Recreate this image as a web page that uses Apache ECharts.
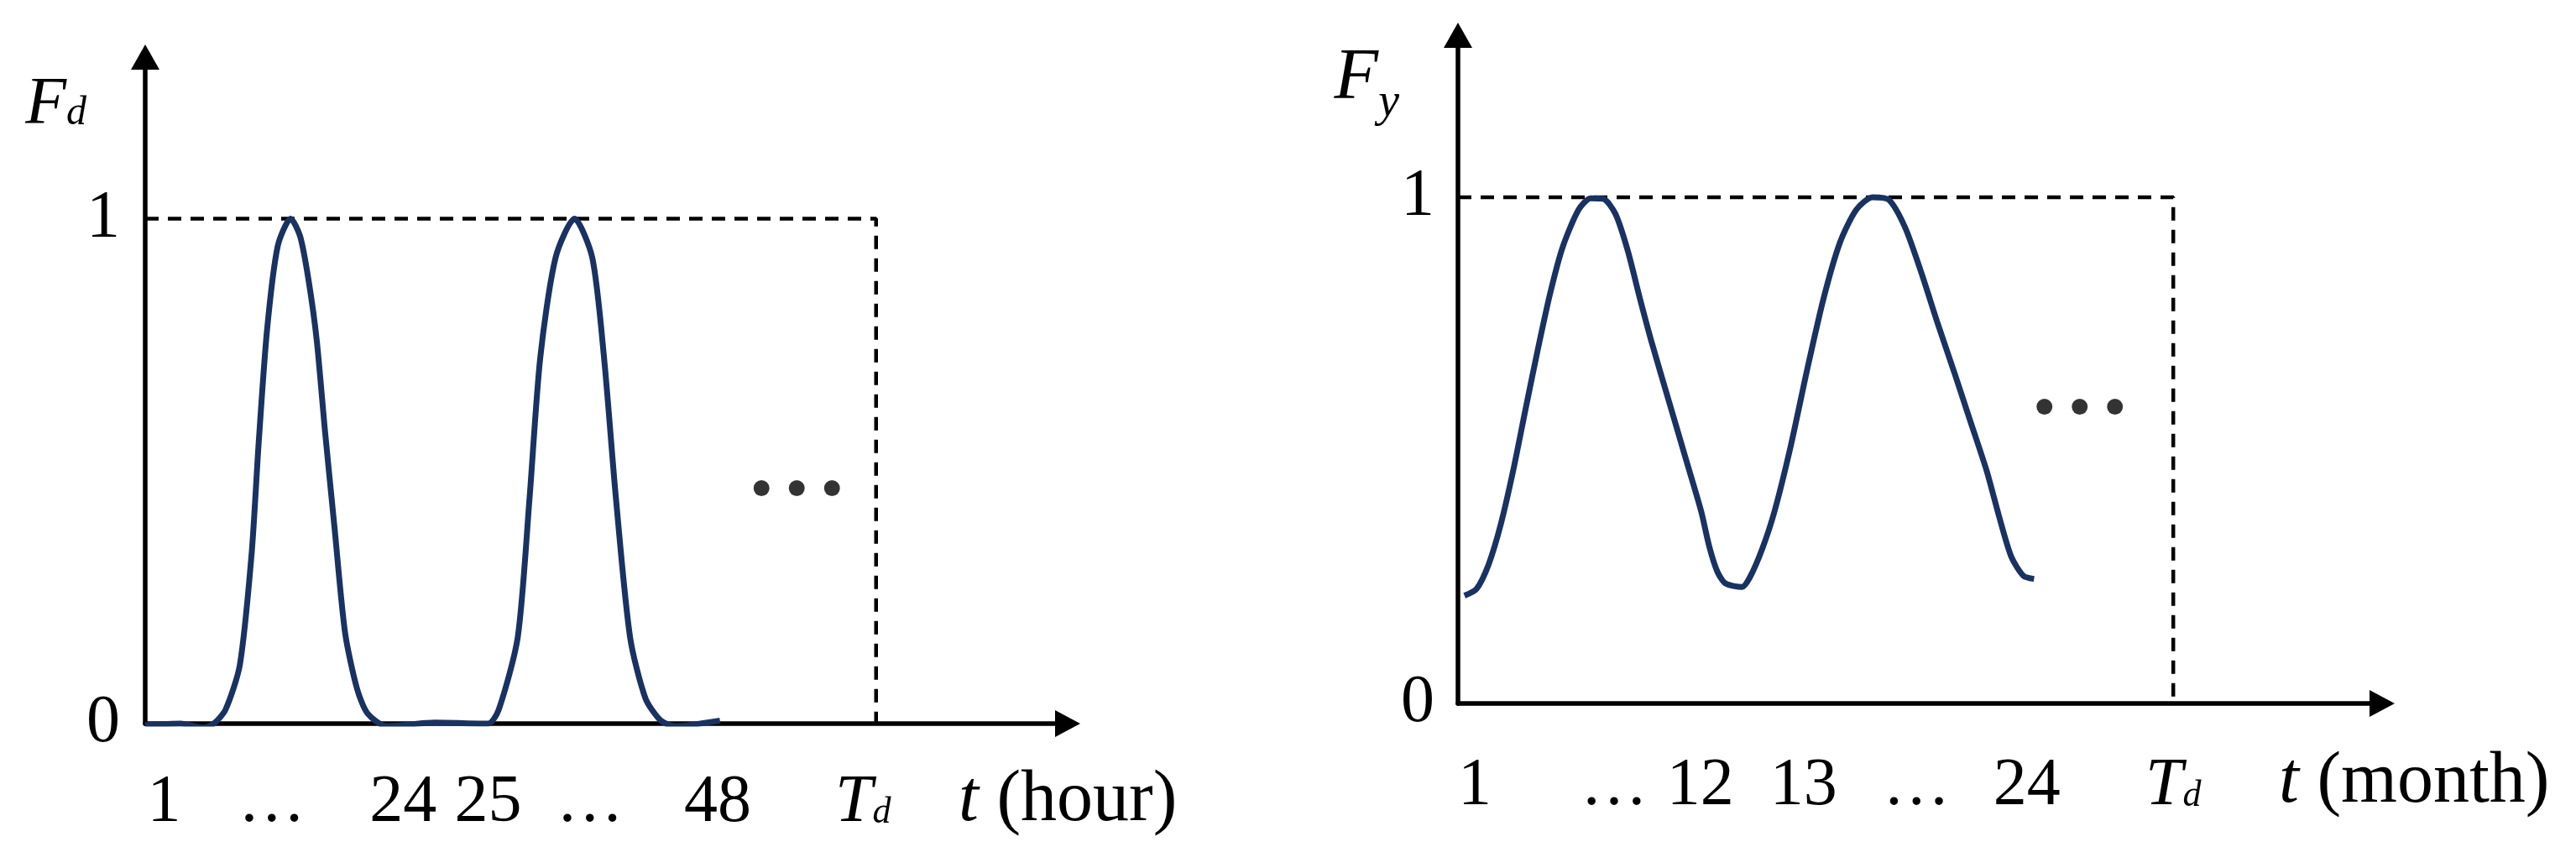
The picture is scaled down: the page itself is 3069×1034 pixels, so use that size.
<!DOCTYPE html>
<html>
<head>
<meta charset="utf-8">
<title>Fd / Fy</title>
<script src="https://cdn.jsdelivr.net/npm/echarts@6/dist/echarts.min.js"></script>
<style>
  html, body { margin: 0; padding: 0; background: #fff; }
  #main { width: 3069px; height: 1034px; }
</style>
</head>
<body>
<div id="main"></div>
<script>
// daily profile (t in hours)
const hourT = [0, 3, 4.9, 5.8, 6.8, 8.0, 9.0, 9.6, 10.3, 11.2, 12.3, 13.1, 13.8, 14.5, 15.2, 16.0, 16.9, 17.9, 18.8, 20.4, 24.5,
  29.0, 29.9, 31.5, 32.5, 33.4, 34.7, 36.3, 37.8, 38.8, 39.8, 41.0, 42.3, 43.6, 44.8, 48.6];
const dayF = [-0.003, 0, -0.008, 0, 0.028, 0.116, 0.337, 0.558, 0.779, 0.945, 1.0, 0.965, 0.88, 0.76, 0.58, 0.39, 0.18, 0.07, 0.02, -0.005, 0.002,
  0, 0.028, 0.171, 0.447, 0.724, 0.923, 1.0, 0.923, 0.724, 0.447, 0.171, 0.05, 0.006, -0.005, 0.006];
const hourTickAt = [1.6, 10.7, 21.8, 29.0, 37.6, 48.4, 60.7];
const hourTickText = ['1', '…', '24', '25', '…', '48', '{T|T}{d|d}'];
const hourTd = 61.8;
const hourMax = 78;
const hourDots = [[55.1, 0.457]];

// yearly profile (t in months)
const monthT = [0.27, 0.77, 1.28, 1.79, 2.30, 2.81, 3.33, 3.84, 4.35, 5.02, 5.53, 6.05, 6.56, 7.07, 7.58, 8.09, 8.77, 9.45, 10.13, 10.47,
  10.81, 11.15, 11.83, 12.17, 12.68, 13.19, 13.87, 14.55, 15.23, 15.91, 16.59, 17.27, 17.95, 18.63, 19.31, 19.99, 20.67, 21.35,
  22.03, 22.54, 23.05, 23.56, 24.0];
const yearF = [0.213, 0.226, 0.275, 0.355, 0.46, 0.58, 0.70, 0.81, 0.90, 0.975, 0.998, 0.997, 0.967, 0.895, 0.80, 0.71, 0.60, 0.49, 0.38, 0.31,
  0.26, 0.237, 0.23, 0.25, 0.306, 0.38, 0.51, 0.66, 0.80, 0.91, 0.975, 1.0, 0.995, 0.94, 0.85, 0.75, 0.655, 0.557,
  0.459, 0.37, 0.29, 0.252, 0.246];
const monthTickAt = [0.7, 6.5, 10.1, 14.4, 19.1, 23.7, 29.8];
const monthTickText = ['1', '…', '12', '13', '…', '24', '{T|T}{d|d}'];
const monthTd = 29.8;
const monthMax = 38.5;
const monthDots = [[25.9, 0.577]];

const fTicks = [0, 1];
const fMax = 1.32;

const serif = 'Liberation Serif';
const navy = '#1a3262';

let myChart = echarts.init(document.getElementById('main'));

function zip(xs, ys) {
    return xs.map(function (x, i) { return [x, ys[i]]; });
}

function xAxisFor(grid, max, ticks, texts, name, nameGap, namePad, margin) {
    return {
        type: 'value', gridIndex: grid, min: 0, max: max,
        splitLine: { show: false },
        axisTick: { show: false },
        axisLine: { onZero: false, symbol: ['none', 'triangle'], symbolSize: [32, 30],
            lineStyle: { color: '#000', width: 5.5 } },
        axisLabel: {
            customValues: ticks, margin: margin,
            fontFamily: serif, fontSize: 80, color: '#000',
            formatter: function (v) { return texts[ticks.indexOf(v)]; },
            rich: {
                T: { fontFamily: serif, fontSize: 80, fontStyle: 'italic', color: '#000' },
                d: { fontFamily: serif, fontSize: 44, fontStyle: 'italic', color: '#000', padding: [22, 0, 0, 0] }
            }
        },
        name: name, nameLocation: 'end', nameGap: nameGap, nameMoveOverlap: false,
        nameTextStyle: {
            fontFamily: serif, fontSize: 86, color: '#000', align: 'left', verticalAlign: 'middle',
            padding: [namePad, 0, 0, 0],
            rich: { i: { fontFamily: serif, fontSize: 86, fontStyle: 'italic', color: '#000' } }
        }
    };
}

function yAxisFor(grid, name, nameGap, rich, margin) {
    return {
        type: 'value', gridIndex: grid, min: 0, max: fMax,
        splitLine: { show: false },
        axisTick: { show: false },
        axisLine: { onZero: false, symbol: ['none', 'triangle'], symbolSize: [34, 30],
            lineStyle: { color: '#000', width: 5.5 } },
        axisLabel: { customValues: fTicks, margin: margin, fontFamily: serif, fontSize: 80, color: '#000' },
        name: name, nameLocation: 'end', nameGap: nameGap, nameMoveOverlap: false,
        nameTextStyle: { align: 'right', verticalAlign: 'middle', padding: [0, 70, 0, 0], rich: rich }
    };
}

function curve(idx, data) {
    return {
        type: 'line', xAxisIndex: idx, yAxisIndex: idx, data: data,
        showSymbol: false, smooth: 0.25,
        lineStyle: { color: navy, width: 7 }
    };
}

function frame(idx, td) {
    return {
        type: 'line', xAxisIndex: idx, yAxisIndex: idx,
        data: [[0, 1], [td, 1], [td, -0.025]],
        showSymbol: false,
        lineStyle: { color: '#000', width: 4.5, type: [16, 11] }
    };
}

// the "• • •" marks that say the series keeps going
function dots(idx, data) {
    return {
        type: 'scatter', xAxisIndex: idx, yAxisIndex: idx, data: data,
        symbolSize: 1, itemStyle: { color: 'rgba(0,0,0,0)' },
        label: { show: true, position: 'inside', formatter: '• • •',
            fontFamily: serif, fontSize: 70, fontWeight: 'bold', color: '#000' }
    };
}

let option = {
    backgroundColor: '#fff',
    animation: false,
    grid: [
        { left: 173, top: 68, width: 1099, height: 794, containLabel: false, outerBoundsMode: 'none' },
        { left: 1737, top: 42, width: 1101, height: 796, containLabel: false, outerBoundsMode: 'none' }
    ],
    xAxis: [
        xAxisFor(0, hourMax, hourTickAt, hourTickText, '{i|t} (hour)', -130, 184, 55),
        xAxisFor(1, monthMax, monthTickAt, monthTickText, '{i|t} (month)', -123, 188, 59)
    ],
    yAxis: [
        yAxisFor(0, '{F|F}{d|d}', -58, {
            F: { fontFamily: serif, fontSize: 80, fontStyle: 'italic', color: '#000' },
            d: { fontFamily: serif, fontSize: 48, fontStyle: 'italic', color: '#000', padding: [19, 0, 0, 0] }
        }, 30),
        yAxisFor(1, '{F|F}{y|y}', -52, {
            F: { fontFamily: serif, fontSize: 86, fontStyle: 'italic', color: '#000' },
            y: { fontFamily: serif, fontSize: 56, fontStyle: 'italic', color: '#000', padding: [58, 0, 0, 0] }
        }, 28)
    ],
    series: [
        frame(0, hourTd),
        curve(0, zip(hourT, dayF)),
        dots(0, hourDots),
        frame(1, monthTd),
        curve(1, zip(monthT, yearF)),
        dots(1, monthDots)
    ]
};
myChart.setOption(option);
window.onresize = function () {
    myChart.resize();
};
</script>
</body>
</html>
